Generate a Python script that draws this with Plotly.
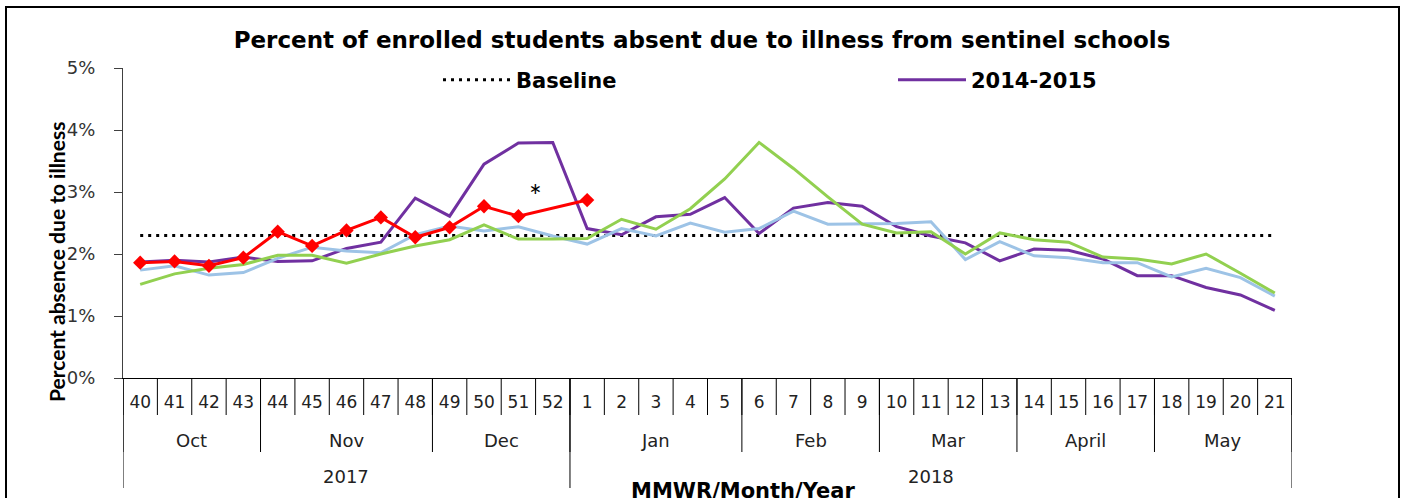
import plotly.graph_objects as go

weeks = ["40","41","42","43","44","45","46","47","48","49","50","51","52",
         "1","2","3","4","5","6","7","8","9","10","11","12","13","14","15","16","17","18","19","20","21"]
months = ["Oct", "Nov", "Dec", "Jan", "Feb", "Mar", "April", "May"]
month_lengths = [4, 5, 4, 5, 4, 4, 4, 4]
years = ["2017", "2018"]
year_lengths = [13, 21]

baseline_value = 2.3
s2014_2015 = [1.87, 1.90, 1.87, 1.95, 1.88, 1.89, 2.09, 2.19, 2.90, 2.61, 3.45, 3.79, 3.80,
              2.41, 2.31, 2.60, 2.64, 2.91, 2.33, 2.74, 2.83, 2.77, 2.44, 2.29, 2.18, 1.89,
              2.08, 2.06, 1.92, 1.65, 1.65, 1.46, 1.34, 1.09]
s2015_2016 = [1.74, 1.81, 1.66, 1.70, 1.93, 2.11, 2.05, 2.02, 2.31, 2.45, 2.37, 2.44, 2.29,
              2.16, 2.41, 2.29, 2.50, 2.35, 2.41, 2.69, 2.48, 2.48, 2.49, 2.52, 1.91, 2.20,
              1.97, 1.94, 1.86, 1.86, 1.63, 1.77, 1.62, 1.32]
s2016_2017 = [1.51, 1.68, 1.77, 1.83, 1.98, 1.98, 1.85, 2.00, 2.13, 2.23, 2.47, 2.24, 2.24,
              2.25, 2.56, 2.40, 2.73, 3.21, 3.80, 3.38, 2.92, 2.48, 2.34, 2.36, 2.00, 2.34,
              2.23, 2.19, 1.95, 1.92, 1.84, 2.00, 1.69, 1.37]
s2017_2018 = [1.86, 1.88, 1.81, 1.94, 2.36, 2.13, 2.38, 2.59, 2.27, 2.43, 2.77, 2.61, None,
              2.87] + [None] * 20

y_ticks = [0, 1, 2, 3, 4, 5]
y_ticktext = ["0%", "1%", "2%", "3%", "4%", "5%"]

FONT = "DejaVu Sans"
FONT_ROT = "Lato"
W, H = 1405, 498
PLOT_L, PLOT_R, PLOT_T, PLOT_B = 123, 1292, 68, 378  # screen px
L, T = PLOT_L, PLOT_T
R, B = W - PLOT_R, H - PLOT_B
PH = PLOT_B - PLOT_T
PW = PLOT_R - PLOT_L

def py(s):  # screen y -> paper y
    return (PLOT_B - s) / PH

def px(s):  # screen x -> paper x
    return (s - PLOT_L) / PW

x = list(range(len(weeks)))

fig = go.Figure()
fig.add_trace(go.Scatter(x=x, y=[baseline_value] * len(weeks), mode="lines", name="Baseline",
                         line=dict(color="black", width=3, dash="3px,5px")))
fig.add_trace(go.Scatter(x=x, y=s2014_2015, mode="lines", name="2014-2015",
                         line=dict(color="#7030A0", width=3)))
fig.add_trace(go.Scatter(x=x, y=s2015_2016, mode="lines", name="2015-2016", showlegend=False,
                         line=dict(color="#9DC3E6", width=3)))
fig.add_trace(go.Scatter(x=x, y=s2016_2017, mode="lines", name="2016-2017", showlegend=False,
                         line=dict(color="#92D050", width=3)))
fig.add_trace(go.Scatter(x=x, y=s2017_2018, mode="lines+markers", name="2017-2018", showlegend=False,
                         connectgaps=True,
                         line=dict(color="#FF0000", width=3),
                         marker=dict(symbol="diamond", size=11, color="#FF0000")))

shapes = []
n = len(weeks)
sep = dict(color="black", width=1)
for i in range(n + 1):
    shapes.append(dict(type="line", xref="x", yref="paper", x0=i - 0.5, x1=i - 0.5,
                       y0=0, y1=py(415), line=sep))
pos = 0
month_centers = []
for m, ln in zip(months, month_lengths):
    month_centers.append(pos + (ln - 1) / 2)
    shapes.append(dict(type="line", xref="x", yref="paper", x0=pos - 0.5, x1=pos - 0.5,
                       y0=0, y1=py(452), line=sep))
    pos += ln
shapes.append(dict(type="line", xref="x", yref="paper", x0=pos - 0.5, x1=pos - 0.5,
                   y0=0, y1=py(452), line=sep))
pos = 0
year_centers = []
for yname, ln in zip(years, year_lengths):
    year_centers.append(pos + (ln - 1) / 2)
    shapes.append(dict(type="line", xref="x", yref="paper", x0=pos - 0.5, x1=pos - 0.5,
                       y0=0, y1=py(488), line=sep))
    pos += ln
shapes.append(dict(type="line", xref="x", yref="paper", x0=pos - 0.5, x1=pos - 0.5,
                   y0=0, y1=py(488), line=sep))
# outer border of the slide frame
shapes.append(dict(type="rect", xref="paper", yref="paper", x0=px(6), x1=px(1399),
                   y0=py(530), y1=py(7), line=dict(color="black", width=2)))

annotations = []
for m, c in zip(months, month_centers):
    annotations.append(dict(text=m, xref="x", yref="paper", x=c, y=py(440), showarrow=False,
                            xanchor="center", yanchor="middle",
                            font=dict(family=FONT, size=18, color="#222")))
for yname, c in zip(years, year_centers):
    annotations.append(dict(text=yname, xref="x", yref="paper", x=c, y=py(476), showarrow=False,
                            xanchor="center", yanchor="middle",
                            font=dict(family=FONT, size=18, color="#222")))
annotations.append(dict(text="MMWR/Month/Year", xref="paper", yref="paper", x=px(743), y=py(491),
                        xanchor="center", yanchor="middle", showarrow=False,
                        font=dict(family=FONT, size=21, color="black", weight="bold")))
annotations.append(dict(text="Percent absence due to illness", xref="paper", yref="paper",
                        x=px(56), y=py(262), textangle=-90, showarrow=False,
                        xanchor="center", yanchor="middle",
                        font=dict(family=FONT_ROT, size=21, color="black", weight="bold")))
annotations.append(dict(text="*", xref="x", yref="y", x=11.5, y=2.95, showarrow=False,
                        xanchor="center", yanchor="middle",
                        font=dict(family="Lato", size=30, color="black")))

fig.update_layout(
    width=W, height=H,
    margin=dict(l=L, r=R, t=T, b=B, autoexpand=False),
    paper_bgcolor="white", plot_bgcolor="white",
    title=dict(text="Percent of enrolled students absent due to illness from sentinel schools",
               x=702 / W, xanchor="center", y=1 - 40 / H, yanchor="middle",
               font=dict(family=FONT, size=23, color="black", weight="bold")),
    showlegend=True,
    legend=dict(orientation="h", x=px(438), xanchor="left", y=py(80), yanchor="middle",
                font=dict(family=FONT, size=21, color="black", weight="bold"),
                itemwidth=68, entrywidth=372, entrywidthmode="pixels",
                bgcolor="rgba(0,0,0,0)", traceorder="normal"),
    shapes=shapes,
    annotations=annotations,
)
fig.update_xaxes(range=[-0.5, n - 0.5], tickvals=x, ticktext=weeks, showgrid=False,
                 showline=True, linecolor="black", linewidth=1, ticks="", zeroline=False,
                 ticklabelstandoff=9,
                 tickfont=dict(family=FONT, size=17, color="#222"))
fig.update_yaxes(range=[0, 5], tickvals=y_ticks, ticktext=y_ticktext, showgrid=False,
                 showline=True, linecolor="#404040", linewidth=1, ticks="outside", ticklen=8,
                 tickcolor="#404040", zeroline=False, ticklabelstandoff=15,
                 tickfont=dict(family=FONT, size=18, color="#333"))

fig.write_html("out.html", config={"displayModeBar": False},
               post_script="document.body.style.margin='0';")
